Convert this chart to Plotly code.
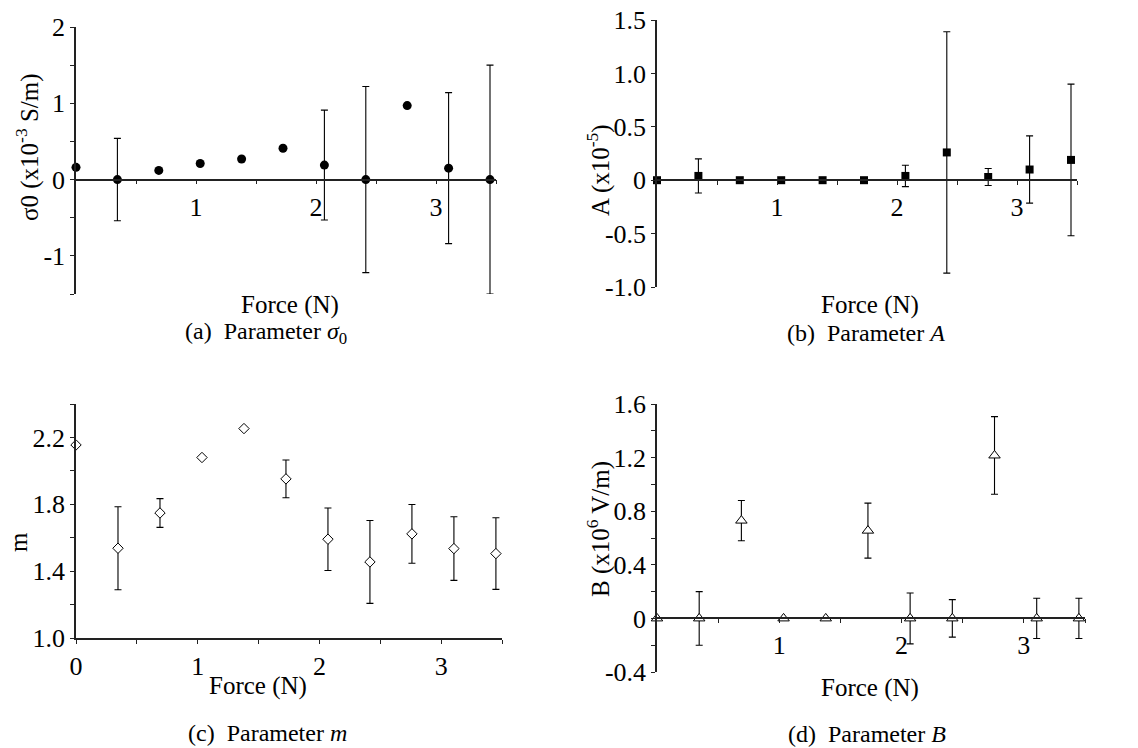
import plotly.graph_objects as go

W, H = 1138, 748

# ---------------- data ----------------
force = [0, 0.345, 0.69, 1.035, 1.38, 1.725, 2.07, 2.415, 2.76, 3.105, 3.45]

sigma0 = [0.16, 0.0, 0.12, 0.21, 0.27, 0.41, 0.19, 0.0, 0.97, 0.15, 0.0]
sigma0_err = [None, 0.54, None, None, None, None, 0.72, 1.22, None, 0.99, 1.5]

A_vals = [0.0, 0.04, 0.0, 0.0, 0.0, 0.0, 0.04, 0.26, 0.03, 0.10, 0.19]
A_err = [None, 0.16, None, None, None, None, 0.10, 1.13, 0.08, 0.315, 0.71]

m_vals = [2.155, 1.537, 1.748, 2.08, 2.253, 1.952, 1.591, 1.455, 1.623, 1.535, 1.505]
m_err = [None, 0.248, 0.086, None, None, 0.113, 0.187, 0.248, 0.176, 0.19, 0.214]

B_vals = [0.0, 0.0, 0.73, 0.0, 0.0, 0.655, 0.0, 0.0, 1.216, 0.0, 0.0]
B_err = [None, 0.2, 0.15, None, None, 0.205, 0.19, 0.14, 0.29, 0.15, 0.15]

x_tickvals = [1, 2, 3]
x_ticktext = ["1", "2", "3"]
x_tickvals_c = [0, 1, 2, 3]
x_ticktext_c = ["0", "1", "2", "3"]
x_minor = [0.5, 1.5, 2.5, 3.5]

a_yticks = [-1, 0, 1, 2]
a_ytext = ["-1", "0", "1", "2"]
a_yminor = [-1.5, -0.5, 0.5, 1.5]
b_yticks = [-1.0, -0.5, 0, 0.5, 1.0, 1.5]
b_ytext = ["-1.0", "-0.5", "0", "0.5", "1.0", "1.5"]
b_yminor = []
c_yticks = [1.0, 1.4, 1.8, 2.2]
c_ytext = ["1.0", "1.4", "1.8", "2.2"]
c_yminor = [1.2, 1.6, 2.0, 2.4]
d_yticks = [-0.4, 0, 0.4, 0.8, 1.2, 1.6]
d_ytext = ["-0.4", "0", "0.4", "0.8", "1.2", "1.6"]
d_yminor = [-0.2, 0.2, 0.6, 1.0, 1.4]

ranges_y = {"a": [-1.5, 2.0], "b": [-1.0, 1.5], "c": [1.0, 2.4], "d": [-0.4, 1.6]}

# --------------- layout helpers (pixels -> paper) ---------------
def px(x):
    return x / W

def py(y):
    return 1 - y / H

# plot boxes in pixels: (left, right, top, bottom)
boxes = {
    "a": (76, 496, 27, 294),
    "b": (657, 1077, 20, 287),
    "c": (76, 502, 404, 638),
    "d": (657, 1085, 404, 672),
}

FONT = "Liberation Serif"
LINE = "#222222"
TICK_SIZE = 26
TITLE_SIZE = 25
CAPTION_SIZE = 24

fig = go.Figure()

panels = [
    ("a", "x", "y", sigma0, sigma0_err, dict(symbol="circle", size=9, color="black")),
    ("b", "x2", "y2", A_vals, A_err, dict(symbol="square", size=8, color="black")),
    ("c", "x3", "y3", m_vals, m_err,
     dict(symbol="diamond", size=8, color="white", line=dict(color="black", width=1))),
    ("d", "x4", "y4", B_vals, B_err,
     dict(symbol="triangle-up", size=10, color="white", line=dict(color="black", width=1))),
]

for key, xa, ya, vals, errs, mk in panels:
    fig.add_trace(go.Scatter(
        x=force, y=vals, xaxis=xa, yaxis=ya, mode="markers",
        marker=mk, cliponaxis=False, showlegend=False,
        error_y=dict(type="data", array=errs, visible=True,
                     color="black", thickness=1.1, width=3.5),
    ))

layout = dict(
    width=W, height=H,
    margin=dict(l=0, r=0, t=0, b=0, autoexpand=False),
    paper_bgcolor="white", plot_bgcolor="white",
    font=dict(family=FONT, size=TICK_SIZE, color="black"),
    showlegend=False,
)

ytick_map = {"a": (a_yticks, a_ytext, a_yminor), "b": (b_yticks, b_ytext, b_yminor),
             "c": (c_yticks, c_ytext, c_yminor), "d": (d_yticks, d_ytext, d_yminor)}
names = {"a": ("xaxis", "yaxis", "y", "x"), "b": ("xaxis2", "yaxis2", "y2", "x2"),
         "c": ("xaxis3", "yaxis3", "y3", "x3"), "d": ("xaxis4", "yaxis4", "y4", "x4")}

for key, (l, r, t, b) in boxes.items():
    xname, yname, yref, xref = names[key]
    yr = ranges_y[key]
    dom_y = [py(b), py(t)]
    ax = dict(
        domain=[px(l), px(r)], range=[0, 3.5],
        showline=True, linecolor=LINE, linewidth=1.5,
        ticks="outside", ticklen=4, tickwidth=1.2, tickcolor=LINE,
        tickmode="array",
        tickvals=x_tickvals_c if key == "c" else x_tickvals,
        ticktext=x_ticktext_c if key == "c" else x_ticktext,
        minor=dict(tickmode="array", tickvals=x_minor, ticks="outside",
                   ticklen=4, tickwidth=1.2, tickcolor=LINE, showgrid=False),
        showgrid=False, zeroline=False,
        tickfont=dict(family=FONT, size=TICK_SIZE, color="black"),
    )
    if key == "c":
        ax["anchor"] = yref
    else:
        frac = (0 - yr[0]) / (yr[1] - yr[0])
        ax["anchor"] = "free"
        ax["position"] = dom_y[0] + frac * (dom_y[1] - dom_y[0])
    layout[xname] = ax
    tv, tt, tm = ytick_map[key]
    yax = dict(
        domain=dom_y, range=yr, anchor=xref,
        showline=True, linecolor=LINE, linewidth=1.5,
        ticks="outside", ticklen=4, tickwidth=1.2, tickcolor=LINE,
        tickmode="array", tickvals=tv, ticktext=tt,
        showgrid=False, zeroline=False,
        tickfont=dict(family=FONT, size=TICK_SIZE, color="black"),
    )
    if tm:
        yax["minor"] = dict(tickmode="array", tickvals=tm, ticks="outside",
                            ticklen=4, tickwidth=1.2, tickcolor=LINE, showgrid=False)
    layout[yname] = yax

annotations = []

def ann(text, x, y, size=TITLE_SIZE, angle=0):
    annotations.append(dict(
        text=text, x=px(x), y=py(y), xref="paper", yref="paper",
        showarrow=False, xanchor="center", yanchor="middle",
        textangle=angle, font=dict(family=FONT, size=size, color="black"),
    ))

# y-axis titles
ann("σ0 (x10<sup>-3</sup> S/m)", 27, 147, angle=-90)
ann("A (x10<sup>-5</sup>)", 598, 170, angle=-90)
ann("m", 18, 542, angle=-90)
ann("B (x10<sup>6</sup> V/m)", 598, 529, angle=-90)

# x-axis titles
ann("Force (N)", 290, 305)
ann("Force (N)", 870, 305)
ann("Force (N)", 258, 686)
ann("Force (N)", 870, 688)

# captions
ann("(a)  Parameter <i>σ</i><sub>0</sub>", 266, 333, size=CAPTION_SIZE)
ann("(b)  Parameter <i>A</i>", 866, 333, size=CAPTION_SIZE)
ann("(c)  Parameter <i>m</i>", 267, 733, size=CAPTION_SIZE)
ann("(d)  Parameter <i>B</i>", 867, 734, size=CAPTION_SIZE)

layout["annotations"] = annotations
fig.update_layout(**layout)

fig.write_html("out.html", config={"displayModeBar": False},
               post_script="document.body.style.margin='0px';")
